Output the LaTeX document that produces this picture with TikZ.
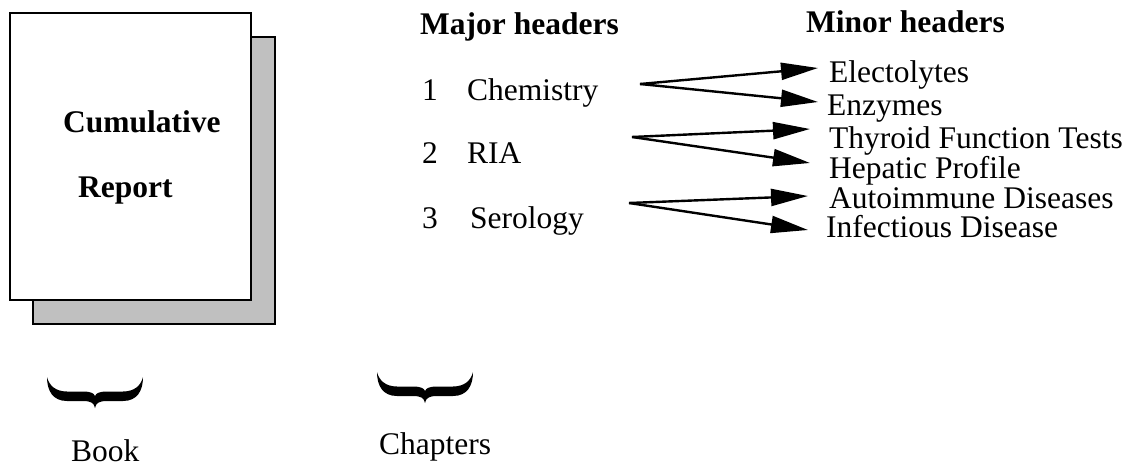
\documentclass[tikz,border=0pt]{standalone}
\usepackage{fontspec}
\setmainfont{Liberation Serif}
\usetikzlibrary{arrows.meta}
\begin{document}
\begin{tikzpicture}[x=1pt,y=-1pt,
  txt/.style={anchor=base west,inner sep=0pt,font=\fontsize{31.5}{37}\selectfont},
  btxt/.style={txt,font=\fontsize{31.5}{37}\selectfont\bfseries},
  arr/.style={line width=2.4pt,-{Triangle[length=37pt,width=17pt]}},
  bracepic/.pic={\fill[black] (0,0) .. controls (0,14) and (6,24) .. (20,24) -- (36,24) .. controls (44,24) and (47,26) .. (48,31) .. controls (49,26) and (52,24) .. (60,24) -- (76,24) .. controls (90,24) and (96,14) .. (96,0) .. controls (94,8) and (88,14.5) .. (76,14.5) -- (60,14.5) .. controls (53,14.5) and (49,16) .. (48,19) .. controls (47,16) and (43,14.5) .. (36,14.5) -- (20,14.5) .. controls (8,14.5) and (2,8) .. (0,0) -- cycle;}
]
\useasboundingbox (0,0) rectangle (1131,468);
% book
\draw[line width=2pt,fill={rgb,255:red,192;green,192;blue,192}] (33,37) rectangle (275,324);
\draw[line width=2pt,fill=white] (10,13) rectangle (251,300);
\node[btxt] (cum) at (63,132) {Cumulative};
\node[btxt] (rep) at (78,197) {Report};
% headers
\node[btxt] (major) at (420,35) {Major headers};
\node[btxt] (minor) at (806,33) {Minor headers};
\node[txt] (n1) at (422,100) {1};
\node[txt] (chem) at (467,100) {Chemistry};
\node[txt] (n2) at (422,163) {2};
\node[txt] (ria) at (467,163) {RIA};
\node[txt] (n3) at (422,228) {3};
\node[txt] (sero) at (470,228) {Serology};
% minor
\node[txt] (elec) at (829,83) {Electolytes};
\node[txt] (enz) at (827,115) {Enzymes};
\node[txt] (thy) at (829,148) {Thyroid Function Tests};
\node[txt] (hep) at (829,178) {Hepatic Profile};
\node[txt] (auto) at (829,208) {Autoimmune Diseases};
\node[txt] (inf) at (826,237) {Infectious Disease};
% arrows
\coordinate (s1) at (640,84);
\coordinate (s2) at (632,137);
\coordinate (s3) at (629,203);
\coordinate (t1a) at (818,68);
\coordinate (t1b) at (818,102);
\coordinate (t2a) at (810,129);
\coordinate (t2b) at (810,163);
\coordinate (t3a) at (808,196);
\coordinate (t3b) at (808,230);
\draw[arr] (s1) -- (t1a);
\draw[arr] (s1) -- (t1b);
\draw[arr] (s2) -- (t2a);
\draw[arr] (s2) -- (t2b);
\draw[arr] (s3) -- (t3a);
\draw[arr] (s3) -- (t3b);
% braces
\pic at (47,377) {bracepic};
\pic at (377,372) {bracepic};
\node[txt] (book) at (71,461) {Book};
\node[txt] (chap) at (379,454) {Chapters};
\end{tikzpicture}
\end{document}
